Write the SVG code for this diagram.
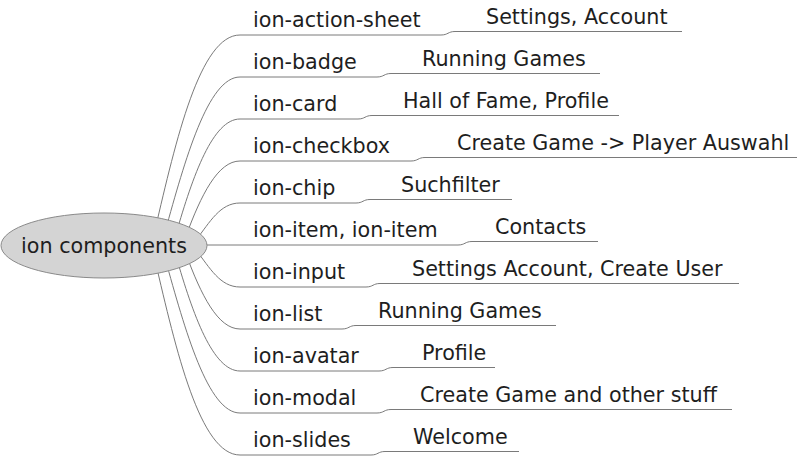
<svg xmlns="http://www.w3.org/2000/svg" width="800" height="456" viewBox="0 0 800 456">
<style>
.t{font-family:"DejaVu Sans","Verdana",sans-serif;font-size:20.7px;fill:#1e1e1e}
.c{fill:none;stroke:#7a7a7a;stroke-width:1}
.u{fill:none;stroke:#7a7a7a;stroke-width:1}
</style>
<rect width="800" height="456" fill="#fff"/>
<g id="connectors">
<path class="c" d="M155,230 C176,140 200,35 240,35"/>
<path class="c" d="M165,232 C185,160 208,77 240,77"/>
<path class="c" d="M176,234 C193,175 213,119 240,119"/>
<path class="c" d="M186,236 C201,195 218,161 240,161"/>
<path class="c" d="M196,240 C210,222 220,203 240,203"/>
<path class="c" d="M200,245 L240,245"/>
<path class="c" d="M196,250 C210,268 220,287 240,287"/>
<path class="c" d="M186,254 C201,295 218,329 240,329"/>
<path class="c" d="M176,256 C193,315 213,371 240,371"/>
<path class="c" d="M165,258 C185,330 208,413 240,413"/>
<path class="c" d="M155,260 C176,350 200,455 240,455"/>
<path class="c" d="M441,35 C448,35 448,31.5 455,31.5"/>
<path class="c" d="M377,77 C384,77 384,73.5 391,73.5"/>
<path class="c" d="M358,119 C365,119 365,115.5 372,115.5"/>
<path class="c" d="M411,161 C418,161 418,157.5 425,157.5"/>
<path class="c" d="M356,203 C363,203 363,199.5 370,199.5"/>
<path class="c" d="M458,245 C465,245 465,241.5 472,241.5"/>
<path class="c" d="M366,287 C373,287 373,283.5 380,283.5"/>
<path class="c" d="M342,329 C349,329 349,325.5 356,325.5"/>
<path class="c" d="M379,371 C386,371 386,367.5 393,367.5"/>
<path class="c" d="M377,413 C384,413 384,409.5 391,409.5"/>
<path class="c" d="M371,455 C378,455 378,451.5 385,451.5"/>
</g>
<g id="root">
<ellipse cx="104" cy="245.5" rx="103" ry="32.5" fill="#d4d4d4" stroke="#8a8a8a" stroke-width="1"/>
<text class="t" x="104" y="253" text-anchor="middle">ion components</text>
</g>
<g id="n-action-sheet"><text class="t" x="253" y="27">ion-action-sheet</text><path class="u" d="M240,35 H441"/></g>
<g id="n-badge"><text class="t" x="253" y="69">ion-badge</text><path class="u" d="M240,77 H377"/></g>
<g id="n-card"><text class="t" x="253" y="111">ion-card</text><path class="u" d="M240,119 H358"/></g>
<g id="n-checkbox"><text class="t" x="253" y="153">ion-checkbox</text><path class="u" d="M240,161 H411"/></g>
<g id="n-chip"><text class="t" x="253" y="195">ion-chip</text><path class="u" d="M240,203 H356"/></g>
<g id="n-item"><text class="t" x="253" y="237">ion-item, ion-item</text><path class="u" d="M240,245 H458"/></g>
<g id="n-input"><text class="t" x="253" y="279">ion-input</text><path class="u" d="M240,287 H366"/></g>
<g id="n-list"><text class="t" x="253" y="321">ion-list</text><path class="u" d="M240,329 H342"/></g>
<g id="n-avatar"><text class="t" x="253" y="363">ion-avatar</text><path class="u" d="M240,371 H379"/></g>
<g id="n-modal"><text class="t" x="253" y="405">ion-modal</text><path class="u" d="M240,413 H377"/></g>
<g id="n-slides"><text class="t" x="253" y="447">ion-slides</text><path class="u" d="M240,455 H371"/></g>
<g id="g-settings-account"><text class="t" x="486" y="23.5">Settings, Account</text><path class="u" d="M455,31.5 H682"/></g>
<g id="g-running-games-1"><text class="t" x="422" y="65.5">Running Games</text><path class="u" d="M391,73.5 H600"/></g>
<g id="g-hall-of-fame"><text class="t" x="403" y="107.5">Hall of Fame, Profile</text><path class="u" d="M372,115.5 H619"/></g>
<g id="g-create-game-player"><text class="t" x="457" y="149.5">Create Game -&gt; Player Auswahl</text><path class="u" d="M425,157.5 H797"/></g>
<g id="g-suchfilter"><text class="t" x="401" y="191.5">Suchfilter</text><path class="u" d="M370,199.5 H512"/></g>
<g id="g-contacts"><text class="t" x="495" y="233.5">Contacts</text><path class="u" d="M472,241.5 H598"/></g>
<g id="g-settings-create-user"><text class="t" x="412" y="275.5">Settings Account, Create User</text><path class="u" d="M380,283.5 H739"/></g>
<g id="g-running-games-2"><text class="t" x="378" y="317.5">Running Games</text><path class="u" d="M356,325.5 H556"/></g>
<g id="g-profile"><text class="t" x="422" y="359.5">Profile</text><path class="u" d="M393,367.5 H495"/></g>
<g id="g-create-game-other"><text class="t" x="420" y="401.5">Create Game and other stuff</text><path class="u" d="M391,409.5 H732"/></g>
<g id="g-welcome"><text class="t" x="413" y="443.5">Welcome</text><path class="u" d="M385,451.5 H519"/></g>
</svg>
